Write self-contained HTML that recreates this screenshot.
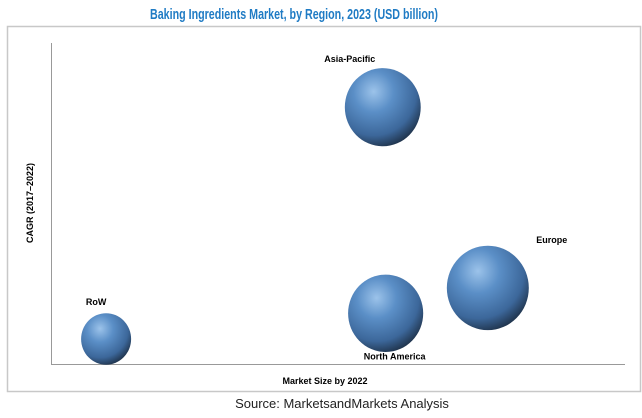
<!DOCTYPE html>
<html><head><meta charset="utf-8"><style>
body{margin:0;background:#fff;width:642px;height:413px;overflow:hidden;font-family:"Liberation Sans",sans-serif}
</style></head><body>
<svg width="642" height="413">
<defs>
<radialGradient id="g" cx="0.38" cy="0.3" r="0.75">
<stop offset="0" stop-color="#9cc3ea"/>
<stop offset="0.35" stop-color="#5b8fc7"/>
<stop offset="0.75" stop-color="#3c679a"/>
<stop offset="1" stop-color="#1d2f45"/>
</radialGradient>
</defs>
<text x="294" y="19" text-anchor="middle" font-size="15" font-weight="bold" fill="#1f7bc4" textLength="288" lengthAdjust="spacingAndGlyphs">Baking Ingredients Market, by Region, 2023 (USD billion)</text>
<rect x="7.5" y="26.5" width="633" height="365" fill="none" stroke="#c8c8c8" stroke-width="1.5"/>
<line x1="51.5" y1="43" x2="51.5" y2="364" stroke="#999"/>
<line x1="51" y1="364.5" x2="625" y2="364.5" stroke="#999"/>
<text transform="translate(33,203) rotate(-90)" text-anchor="middle" font-size="9" font-weight="bold">CAGR (2017–2022)</text>
<text x="325" y="384" text-anchor="middle" font-size="9" font-weight="bold">Market Size by 2022</text>
<text x="342" y="408" text-anchor="middle" font-size="13" fill="#222">Source: MarketsandMarkets Analysis</text>
<g id="bubbles"></g>
</svg>
<script>
const regions=["Asia-Pacific","RoW","North America","Europe"];
const marketSize=[5.78,0.96,5.83,7.61];
const cagr=[8.0,0.78,1.58,2.37];
const bubbleSize=[14.4,6.25,14.1,16.8];
const labelDx=[-33,-10,9,64];
const labelDy=[-45,-34,46,-45];
const xs=v=>51+v*57.4, ys=v=>364-v*32.1, rs=v=>10*Math.sqrt(v);
const g=document.getElementById('bubbles');
const ns="http://www.w3.org/2000/svg";
regions.forEach((r,i)=>{
 const cx=xs(marketSize[i]),cy=ys(cagr[i]),rad=rs(bubbleSize[i]);
 const c=document.createElementNS(ns,'ellipse');
 c.setAttribute('cx',cx);c.setAttribute('cy',cy);c.setAttribute('rx',rad);c.setAttribute('ry',rad*1.03);
 c.setAttribute('fill','url(#g)');
 
 
 g.appendChild(c);
 const t=document.createElementNS(ns,'text');
 t.setAttribute('x',cx+labelDx[i]);t.setAttribute('y',cy+labelDy[i]);
 t.setAttribute('text-anchor','middle');t.setAttribute('font-size','9');t.setAttribute('font-weight','bold');
 t.textContent=r;
 
 
 g.appendChild(t);
});
</script>
</body></html>
